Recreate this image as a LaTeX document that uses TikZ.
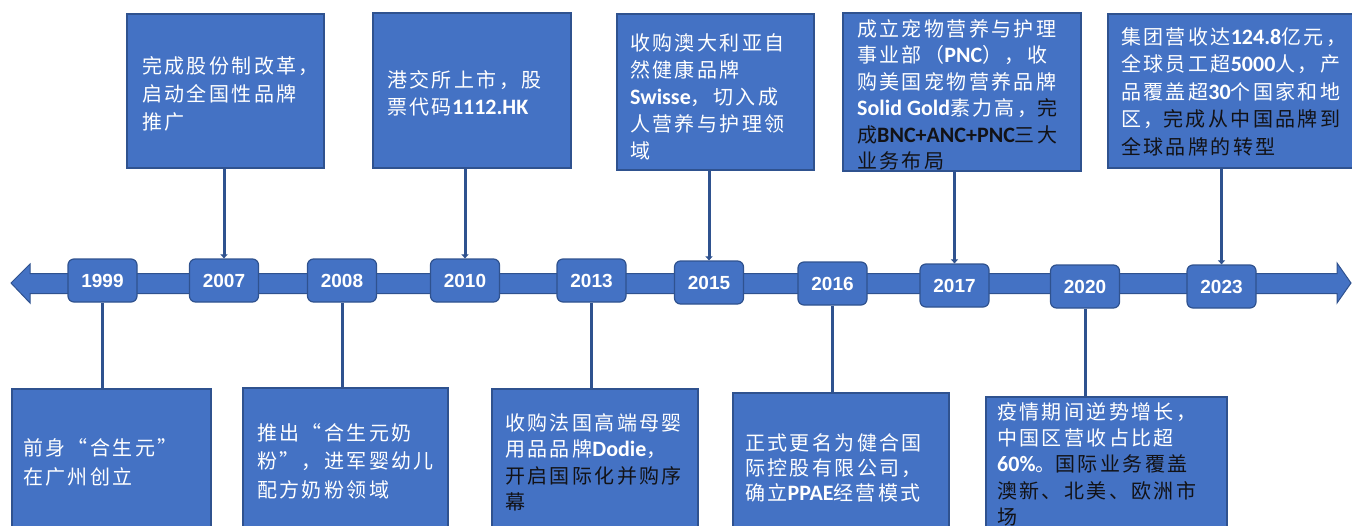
\documentclass[tikz,border=0pt]{standalone}
\usepackage{fontspec}
\setmainfont{Liberation Sans}
\newfontfamily\cjk{Noto Sans CJK SC}[LetterSpace=12]
\newfontfamily\latf{Carlito}
\usetikzlibrary{arrows.meta}
\definecolor{boxblue}{HTML}{4472C4}
\definecolor{edgeblue}{HTML}{2F528F}
\definecolor{dktxt}{HTML}{121216}
\newcommand\latbold[1]{{\latf\bfseries\fontsize{22}{27}\selectfont #1}}
\tikzset{
  yearbox/.style={draw=edgeblue, fill=boxblue, rounded corners=6pt, line width=1.2pt,
    minimum width=69pt, minimum height=43pt, inner sep=0pt, text=white,
    font=\bfseries\fontsize{19}{21}\selectfont},
  infobox/.style={draw=edgeblue, fill=boxblue, line width=1.2pt, inner sep=0pt},
  infotext/.style={anchor=north west, inner sep=0pt, align=left, text=white,
    font=\cjk\fontsize{20}{27}\selectfont},
  darktext/.style={infotext, text=dktxt},
  conn/.style={draw=edgeblue, line width=3pt, -{Triangle[length=4pt,width=7pt]}},
  plainconn/.style={draw=edgeblue, line width=3pt}
}
\begin{document}
\begin{tikzpicture}[x=1pt,y=-1pt]
\useasboundingbox (0,0) rectangle (1352,525);
\clip (0,0) rectangle (1352,525);
% timeline band
\path[fill=boxblue, draw=edgeblue, line width=1pt]
  (11,283) -- (30,264) -- (30,273.5) -- (1337,273.5) -- (1337,263) -- (1351,283)
  -- (1337,303) -- (1337,293.5) -- (30,293.5) -- (30,303) -- cycle;
% top boxes
\node[infobox, minimum width=197pt, minimum height=154pt] (t2007) at (225.5,91) {};
\node[infobox, minimum width=198pt, minimum height=155pt] (t2010) at (472,90.5) {};
\node[infobox, minimum width=197pt, minimum height=156pt] (t2015) at (715.5,92) {};
\node[infobox, minimum width=238pt, minimum height=158pt] (t2017) at (962,92) {};
\node[infobox, minimum width=252pt, minimum height=154pt] (t2023) at (1234,91) {};
% bottom boxes
\node[infobox, minimum width=199pt, minimum height=160pt] (b1999) at (111.5,469) {};
\node[infobox, minimum width=205pt, minimum height=160pt] (b2008) at (345.5,468) {};
\node[infobox, minimum width=206pt, minimum height=160pt] (b2013) at (595,469) {};
\node[infobox, minimum width=216pt, minimum height=160pt] (b2016) at (841,473) {};
\node[infobox, minimum width=241pt, minimum height=160pt] (b2020) at (1106.5,477) {};
% dark text parts
\node[darktext, font=\cjk\fontsize{20}{26.5}\selectfont] (d2017) at (857,19)
  {\phantom{成立宠物营养与护理}\\\phantom{事业部（\latbold{PNC}），收}\\\phantom{购美国宠物营养品牌}\\\phantom{\latbold{Solid Gold}素力高，}完\\成\latbold{BNC+ANC+PNC}三大\\业务布局};
\node[darktext, font=\cjk\fontsize{20}{27.5}\selectfont] (d2023) at (1121,27)
  {\phantom{集团营收达\latbold{124.8}亿元，}\\\phantom{全球员工超\latbold{5000}人，产}\\\phantom{品覆盖超\latbold{30}个国家和地}\\\phantom{区，}完成从中国品牌到\\全球品牌的转型};
\node[darktext, font=\cjk\fontsize{20}{26.5}\selectfont] (d2013) at (505,413)
  {\phantom{收购法国高端母婴}\\\phantom{用品品牌\latbold{Dodie}，}\\开启国际化并购序\\幕};
\node[darktext, font=\cjk\fontsize{20}{26.3}\selectfont] (d2020) at (997,402)
  {\phantom{疫情期间逆势增长，}\\\phantom{中国区营收占比超}\\\phantom{\latbold{60\%}。}国际业务覆盖\\澳新、北美、欧洲市\\场};
% year boxes
\node[yearbox] (y1999) at (102.5,280.5) {1999};
\node[yearbox] (y2007) at (224,280.5) {2007};
\node[yearbox] (y2008) at (342,280.5) {2008};
\node[yearbox] (y2010) at (465,280.5) {2010};
\node[yearbox] (y2013) at (591.5,280.5) {2013};
\node[yearbox] (y2015) at (709,282.5) {2015};
\node[yearbox] (y2016) at (832.5,283.5) {2016};
\node[yearbox] (y2017) at (954.5,285.5) {2017};
\node[yearbox] (y2020) at (1085,286.5) {2020};
\node[yearbox] (y2023) at (1221.5,286.5) {2023};
% connectors
\draw[conn] (t2007.south -| y2007) -- (y2007.north);
\draw[conn] (t2010.south -| y2010) -- (y2010.north);
\draw[conn] (t2015.south -| y2015) -- (y2015.north);
\draw[conn] (t2017.south -| y2017) -- (y2017.north);
\draw[conn] (t2023.south -| y2023) -- (y2023.north);
\draw[plainconn] (y1999.south) -- (y1999.south |- b1999.north);
\draw[plainconn] (y2008.south) -- (y2008.south |- b2008.north);
\draw[plainconn] (y2013.south) -- (y2013.south |- b2013.north);
\draw[plainconn] (y2016.south) -- (y2016.south |- b2016.north);
\draw[plainconn] (y2020.south) -- (y2020.south |- b2020.north);
% white texts
\node[infotext, font=\cjk\fontsize{20}{28}\selectfont] (x2007) at (142,56)
  {完成股份制改革，\\启动全国性品牌\\推广};
\node[infotext] (x2010) at (387,70) {港交所上市，股\\票代码\latbold{1112.HK}};
\node[infotext] (x2015) at (630,33)
  {收购澳大利亚自\\然健康品牌\\\latbold{Swisse}，切入成\\人营养与护理领\\域};
\node[infotext, font=\cjk\fontsize{20}{26.5}\selectfont] (x2017) at (d2017.north west)
  {成立宠物营养与护理\\事业部（\latbold{PNC}），收\\购美国宠物营养品牌\\\latbold{Solid Gold}素力高，};
\node[infotext, font=\cjk\fontsize{20}{27.5}\selectfont] (x2023) at (d2023.north west)
  {集团营收达\latbold{124.8}亿元，\\全球员工超\latbold{5000}人，产\\品覆盖超\latbold{30}个国家和地\\区，};
\node[infotext, font=\cjk\fontsize{20}{29}\selectfont] (x1999) at (23,438)
  {前身“合生元”\\在广州创立};
\node[infotext, font=\cjk\fontsize{20}{28.5}\selectfont] (x2008) at (257,423)
  {推出“合生元奶\\粉”，进军婴幼儿\\配方奶粉领域};
\node[infotext, font=\cjk\fontsize{20}{26.5}\selectfont] (x2013) at (d2013.north west)
  {收购法国高端母婴\\用品品牌\latbold{Dodie}，};
\node[infotext, font=\cjk\fontsize{20}{25}\selectfont] (x2016) at (745,433)
  {正式更名为健合国\\际控股有限公司，\\确立\latbold{PPAE}经营模式};
\node[infotext, font=\cjk\fontsize{20}{26.3}\selectfont] (x2020) at (d2020.north west)
  {疫情期间逆势增长，\\中国区营收占比超\\\latbold{60\%}。};
\end{tikzpicture}
\end{document}
